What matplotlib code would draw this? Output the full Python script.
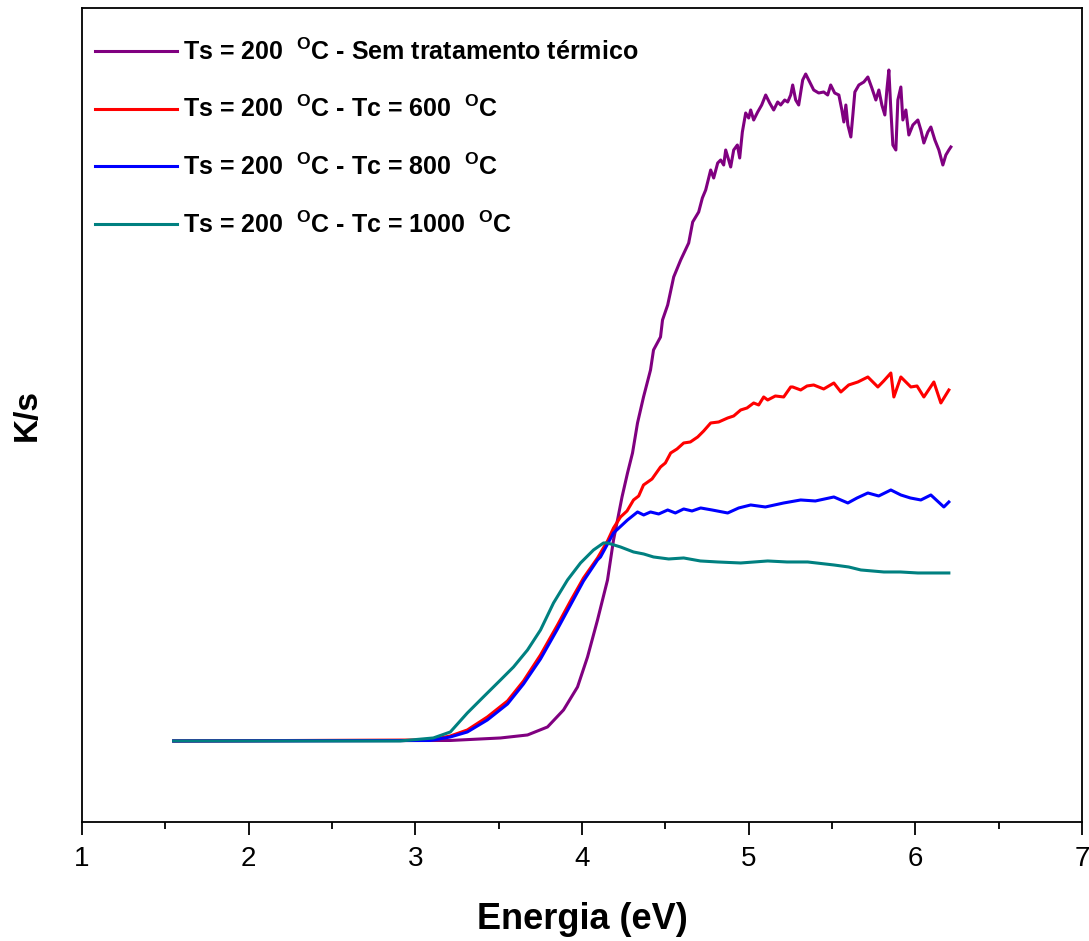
import matplotlib
matplotlib.use("Agg")
import matplotlib.pyplot as plt
from matplotlib.ticker import MultipleLocator

FONT = "Liberation Sans"
plt.rcParams["font.family"] = [FONT, "DejaVu Sans"]
plt.rcParams["mathtext.fontset"] = "custom"
plt.rcParams["mathtext.rm"] = FONT + ":bold"
plt.rcParams["mathtext.it"] = FONT + ":bold"
plt.rcParams["mathtext.bf"] = FONT + ":bold"

# ---- data (arbitrary units for K/s) ----
x_purple = [1.55, 3.21, 3.511, 3.673, 3.793, 3.889, 3.973, 4.033, 4.093, 4.153, 4.189, 4.213,
            4.24, 4.273, 4.303, 4.333, 4.369, 4.411, 4.429, 4.471, 4.483, 4.514, 4.550, 4.592,
            4.640, 4.664, 4.700,
            4.722, 4.742, 4.772, 4.790, 4.814, 4.832, 4.850, 4.862, 4.880, 4.892, 4.910, 4.932,
            4.946, 4.962, 4.982, 5.000, 5.012, 5.030, 5.054, 5.078, 5.102, 5.126, 5.150, 5.174,
            5.192, 5.216, 5.234, 5.252, 5.264, 5.282, 5.300, 5.324, 5.342, 5.366, 5.390, 5.420,
            5.450, 5.474, 5.492, 5.516, 5.541, 5.559, 5.571, 5.583, 5.595, 5.613, 5.625, 5.637,
            5.661, 5.691, 5.715, 5.739, 5.763, 5.781, 5.799, 5.817, 5.829, 5.841, 5.853, 5.865,
            5.883, 5.895, 5.913, 5.925, 5.943, 5.961, 5.985, 6.015, 6.033, 6.051, 6.075, 6.093,
            6.117, 6.141, 6.165, 6.183, 6.201, 6.213]
y_purple = [0.0, 0.005, 0.03, 0.06, 0.14, 0.31, 0.54, 0.84, 1.21, 1.61, 2.01, 2.21,
            2.44, 2.68, 2.88, 3.18, 3.44, 3.71, 3.91, 4.04, 4.21, 4.36, 4.64, 4.81,
            4.98, 5.19, 5.29,
            5.43, 5.51, 5.71, 5.63, 5.78, 5.81, 5.76, 5.91, 5.81, 5.74, 5.91, 5.96,
            5.83, 6.09, 6.28, 6.23, 6.31, 6.21, 6.29, 6.36, 6.46, 6.38, 6.31, 6.39,
            6.36, 6.41, 6.39, 6.46, 6.56, 6.41, 6.36, 6.61, 6.67, 6.59, 6.51, 6.48,
            6.49, 6.46, 6.56, 6.48, 6.46, 6.31, 6.19, 6.36, 6.16, 6.04, 6.26, 6.49,
            6.56, 6.59, 6.64, 6.53, 6.41, 6.51, 6.36, 6.26, 6.51, 6.71, 6.31, 5.96,
            5.91, 6.41, 6.54, 6.21, 6.31, 6.06, 6.16, 6.21, 6.11, 5.98, 6.09, 6.14,
            6.01, 5.91, 5.76, 5.86, 5.91, 5.94]

x_red = [1.55, 3.09, 3.21, 3.312, 3.432, 3.553, 3.649, 3.751, 3.853, 3.931, 4.009, 4.093,
         4.153, 4.189, 4.231, 4.27, 4.309, 4.34, 4.369, 4.42, 4.471, 4.50, 4.532, 4.57, 4.610,
         4.65, 4.694, 4.73, 4.772, 4.82, 4.874, 4.91, 4.952, 4.99, 5.030, 5.06, 5.09, 5.114,
         5.16, 5.210, 5.252, 5.264, 5.312, 5.35, 5.39, 5.45, 5.511, 5.553, 5.60, 5.655, 5.715,
         5.775, 5.81, 5.853, 5.871, 5.913, 5.973, 6.01, 6.051, 6.111, 6.153, 6.201]
y_red = [0.0, 0.01, 0.05, 0.11, 0.24, 0.40, 0.60, 0.86, 1.16, 1.40, 1.63, 1.83,
         2.00, 2.13, 2.24, 2.30, 2.41, 2.45, 2.56, 2.62, 2.74, 2.78, 2.88, 2.92, 2.98,
         2.99, 3.04, 3.10, 3.18, 3.19, 3.23, 3.25, 3.31, 3.33, 3.38, 3.36, 3.44, 3.41,
         3.45, 3.44, 3.54, 3.54, 3.51, 3.55, 3.56, 3.52, 3.58, 3.49, 3.56, 3.59, 3.64,
         3.54, 3.60, 3.68, 3.44, 3.64, 3.54, 3.55, 3.44, 3.59, 3.38, 3.51]

x_blue = [1.55, 3.09, 3.21, 3.312, 3.432, 3.553, 3.649, 3.751, 3.853, 3.931, 4.009, 4.093,
          4.111, 4.189, 4.273, 4.333, 4.37, 4.411, 4.46, 4.514, 4.56, 4.61, 4.66, 4.712, 4.78,
          4.874, 4.94, 5.012, 5.10, 5.210, 5.312, 5.40, 5.511, 5.595, 5.65, 5.715, 5.78, 5.853,
          5.913, 5.97, 6.033, 6.093, 6.171, 6.201]
y_blue = [0.0, 0.005, 0.04, 0.09, 0.21, 0.37, 0.57, 0.82, 1.12, 1.36, 1.60, 1.81,
          1.84, 2.08, 2.21, 2.29, 2.26, 2.29, 2.27, 2.31, 2.28, 2.32, 2.30, 2.33, 2.31,
          2.28, 2.33, 2.36, 2.34, 2.38, 2.41, 2.40, 2.44, 2.38, 2.43, 2.48, 2.45, 2.51,
          2.46, 2.43, 2.41, 2.46, 2.34, 2.39]

x_teal = [1.55, 2.91, 3.108, 3.21, 3.312, 3.408, 3.511, 3.589, 3.673, 3.751, 3.829, 3.913,
          3.991, 4.069, 4.129, 4.153, 4.231, 4.309, 4.37, 4.429, 4.52, 4.610, 4.71, 4.814,
          4.952, 5.114, 5.23, 5.354, 5.511, 5.60, 5.673, 5.811, 5.91, 6.015, 6.201]
y_teal = [0.0, 0.0, 0.03, 0.09, 0.28, 0.44, 0.61, 0.74, 0.91, 1.11, 1.38, 1.61,
          1.78, 1.91, 1.98, 1.98, 1.94, 1.89, 1.87, 1.84, 1.82, 1.83, 1.80, 1.79,
          1.78, 1.80, 1.79, 1.79, 1.76, 1.74, 1.71, 1.69, 1.69, 1.68, 1.68]

sup = r"$^{\mathrm{O}}$"
labels = [
    "Ts = 200  " + sup + "C - Sem tratamento térmico",
    "Ts = 200  " + sup + "C - Tc = 600  " + sup + "C",
    "Ts = 200  " + sup + "C - Tc = 800  " + sup + "C",
    "Ts = 200  " + sup + "C - Tc = 1000  " + sup + "C",
]
colors = ["#800080", "#FF0000", "#0000FF", "#008080"]

fig = plt.figure(figsize=(10.89, 9.41), dpi=100)
ax = fig.add_axes([0.0753, 0.1265, 0.9183, 0.8650])

series = [(x_purple, y_purple), (x_red, y_red), (x_blue, y_blue), (x_teal, y_teal)]
for (xs, ys), c, lab in zip(series, colors, labels):
    ax.plot(xs, ys, color=c, lw=2.2, label=lab)

ax.set_xlim(1, 7)
ax.set_ylim(-0.81, 7.33)
ax.xaxis.set_major_locator(MultipleLocator(1))
ax.xaxis.set_minor_locator(MultipleLocator(0.5))
ax.tick_params(axis="x", which="major", direction="out", length=9, width=1.3,
               labelsize=20, pad=8)
ax.tick_params(axis="x", which="minor", direction="out", length=5, width=1.3)
ax.tick_params(axis="y", left=False, labelleft=False)
for s in ax.spines.values():
    s.set_linewidth(1.3)

ax.set_xlabel("Energia (eV)", fontsize=26, fontweight="bold", labelpad=22)
ax.set_ylabel("K/s", fontsize=24, fontweight="bold", labelpad=28)

leg = ax.legend(loc="upper left", frameon=False, prop={"size": 18, "weight": "bold"},
                handlelength=3.3, handletextpad=0.25, labelspacing=1.25,
                bbox_to_anchor=(0.0, 0.978), borderaxespad=0.1)

fig.savefig("out.png", dpi=100)
